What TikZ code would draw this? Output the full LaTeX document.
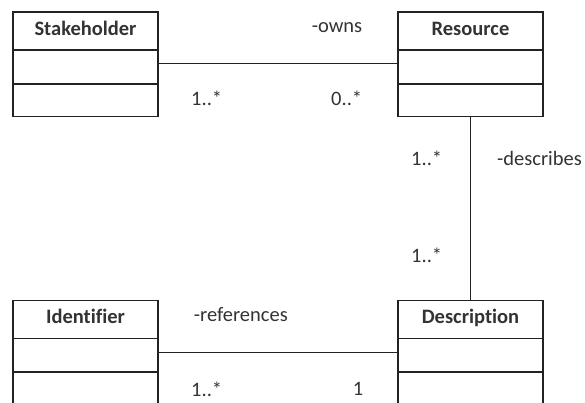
\documentclass[tikz,border=0pt]{standalone}
\usepackage{fontspec}
\setmainfont{Carlito}[Ligatures=NoCommon]
\definecolor{ink}{HTML}{222222}
\definecolor{txt}{HTML}{333333}
\begin{document}
\begin{tikzpicture}[x=1pt,y=-1pt,
  compart/.style={draw=ink,line width=1.8pt,minimum width=145pt,inner sep=0pt,outer sep=0pt,anchor=center},
  classhead/.style={compart,minimum height=38pt,font=\fontsize{20.5}{24}\selectfont\bfseries,text=txt,text height=14pt,text depth=6pt},
  assoc/.style={draw=ink,line width=1.5pt},
  lbl/.style={inner sep=0pt,font=\fontsize{20.5}{24}\selectfont,text=txt}]
\useasboundingbox (0,0) rectangle (585,402);
\clip (0,0) rectangle (585,402);
% Stakeholder class
\node[classhead] (stake) at (85.5,31) {Stakeholder};
\node[compart,minimum height=34pt] (stakeAttr) at (85.5,67) {};
\node[compart,minimum height=32.5pt] (stakeOps) at (85.5,100.25) {};
% Resource class
\node[classhead] (res) at (470.5,31) {Resource};
\node[compart,minimum height=34pt] (resAttr) at (470.5,67) {};
\node[compart,minimum height=32.5pt] (resOps) at (470.5,100.25) {};
% Identifier class
\node[classhead] (ident) at (85.5,319.5) {Identifier};
\node[compart,minimum height=33.5pt] (identAttr) at (85.5,355.25) {};
\node[compart,minimum height=40pt] (identOps) at (85.5,392) {};
% Description class
\node[classhead] (desc) at (470.5,319.5) {Description};
\node[compart,minimum height=33.5pt] (descAttr) at (470.5,355.25) {};
\node[compart,minimum height=40pt] (descOps) at (470.5,392) {};
% associations
\draw[assoc] ([yshift=3.5pt]stakeAttr.east) -- ([yshift=3.5pt]resAttr.west);
\draw[assoc] (resOps.south) -- (desc.north);
\draw[assoc] ([yshift=3pt]identAttr.east) -- ([yshift=3pt]descAttr.west);
% role names and multiplicities
\node[lbl] (owns) at (337,27.5) {-owns};
\node[lbl] (ownsA) at (206.7,98) {1..*};
\node[lbl] (ownsB) at (346.7,98) {0..*};
\node[lbl] (descr) at (539.5,158) {-describes};
\node[lbl] (descrA) at (426.7,158) {1..*};
\node[lbl] (descrB) at (426.7,255) {1..*};
\node[lbl] (refs) at (240.8,315) {-references};
\node[lbl] (refsA) at (206.7,389) {1..*};
\node[lbl] (refsB) at (358,389) {1};
\end{tikzpicture}
\end{document}
